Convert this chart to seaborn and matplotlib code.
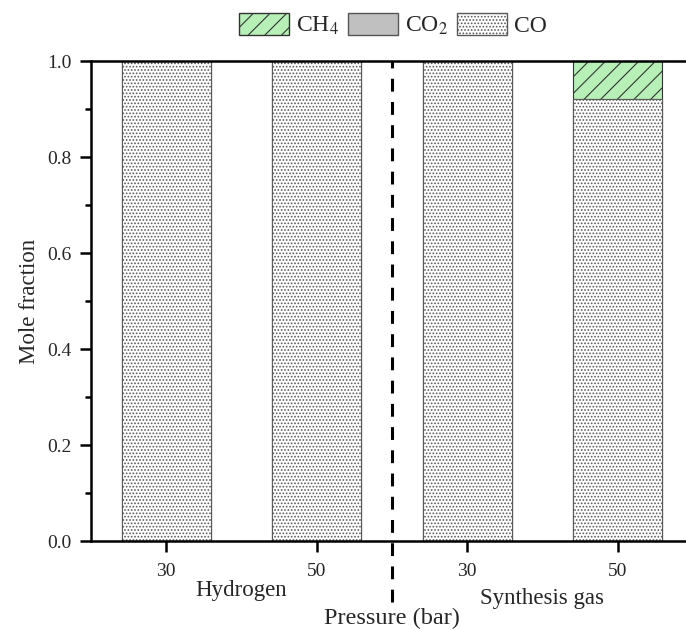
import matplotlib
matplotlib.use("Agg")
import matplotlib.pyplot as plt
import seaborn as sns
import pandas as pd
from matplotlib.patches import Patch

cases = ["H2-30", "H2-50", "SG-30", "SG-50"]
tick_labels = ["30", "50", "30", "50"]
groups = ["Hydrogen", "Synthesis gas"]
co = [1.0, 1.0, 1.0, 0.92]
co2 = [0.0, 0.0, 0.0, 0.0]
ch4 = [0.0, 0.0, 0.0, 0.08]

sns.set_theme(style="ticks")
plt.rcParams["font.family"] = ["Liberation Serif", "DejaVu Serif"]
plt.rcParams["mathtext.fontset"] = "stix"
plt.rcParams["hatch.linewidth"] = 0.8

df = pd.DataFrame({"case": cases, "CO": co, "CO2": co2, "CH4": ch4})
df["CO+CO2"] = df["CO"] + df["CO2"]
df["total"] = df["CO+CO2"] + df["CH4"]

fig = plt.figure(figsize=(6.86, 6.30), dpi=100)
ax = fig.add_axes([91/686, 89/630, 602/686, 480/630])

w = 0.59
green = "#b6f0b6"
sns.barplot(data=df, x="case", y="total", order=cases, color=green, width=w,
            edgecolor="#333333", linewidth=0.8, hatch="//", ax=ax, saturation=1)
sns.barplot(data=df, x="case", y="CO+CO2", order=cases, color="#c0c0c0", width=w,
            edgecolor="#555555", linewidth=0.8, ax=ax, saturation=1)
sns.barplot(data=df, x="case", y="CO", order=cases, color="white", width=w,
            edgecolor="#5a5a5a", linewidth=0.8, hatch=".....", ax=ax, saturation=1)

ax.set_xlim(-0.5, 3.5)
ax.set_ylim(0, 1.0)
ax.set_xticks(range(len(cases)))
ax.set_xticklabels(tick_labels, fontsize=14)
ax.set_yticks([0, 0.2, 0.4, 0.6, 0.8, 1.0])
ax.set_yticklabels(["0.0", "0.2", "0.4", "0.6", "0.8", "1.0"], fontsize=14)
ax.set_yticks([0.1, 0.3, 0.5, 0.7, 0.9], minor=True)
ax.tick_params(axis="both", which="major", direction="out", length=8, width=1.8,
               color="black", pad=6)
ax.tick_params(axis="x", which="major", pad=8)
ax.tick_params(axis="y", which="minor", direction="out", length=4, width=1.8, color="black")
ax.tick_params(axis="x", which="minor", bottom=False)
for s in ["left", "bottom", "top"]:
    ax.spines[s].set_linewidth(1.8)
    ax.spines[s].set_color("black")
ax.spines["right"].set_visible(False)
ax.set_xlabel("")
ax.set_ylabel("Mole fraction", fontsize=16.5, labelpad=5)

ax.axvline(1.5, ymin=-0.127, ymax=1.0, color="black", linestyle=(0, (4.2, 3.4)),
           linewidth=2.2, clip_on=False)

ax.text(0.5, -0.104, groups[0], transform=ax.get_xaxis_transform(), ha="center",
        va="center", fontsize=16.5)
ax.text(2.5, -0.12, groups[1], transform=ax.get_xaxis_transform(), ha="center",
        va="center", fontsize=16.5)
ax.text(1.5, -0.162, "Pressure (bar)", transform=ax.get_xaxis_transform(), ha="center",
        va="center", fontsize=17.5)

handles = [
    Patch(facecolor=green, edgecolor="#333333", hatch="//", label="CH$_4$"),
    Patch(facecolor="#c0c0c0", edgecolor="#555555", label="CO$_2$"),
    Patch(facecolor="white", edgecolor="#5a5a5a", hatch=".....", label="CO"),
]
fig.legend(handles=handles, loc="center", bbox_to_anchor=(393/686, 0.96), ncol=3,
           frameon=False, fontsize=17, handlelength=2.1, handleheight=1.05,
           handletextpad=0.3, columnspacing=0.4)

fig.savefig("out.png", dpi=100)
